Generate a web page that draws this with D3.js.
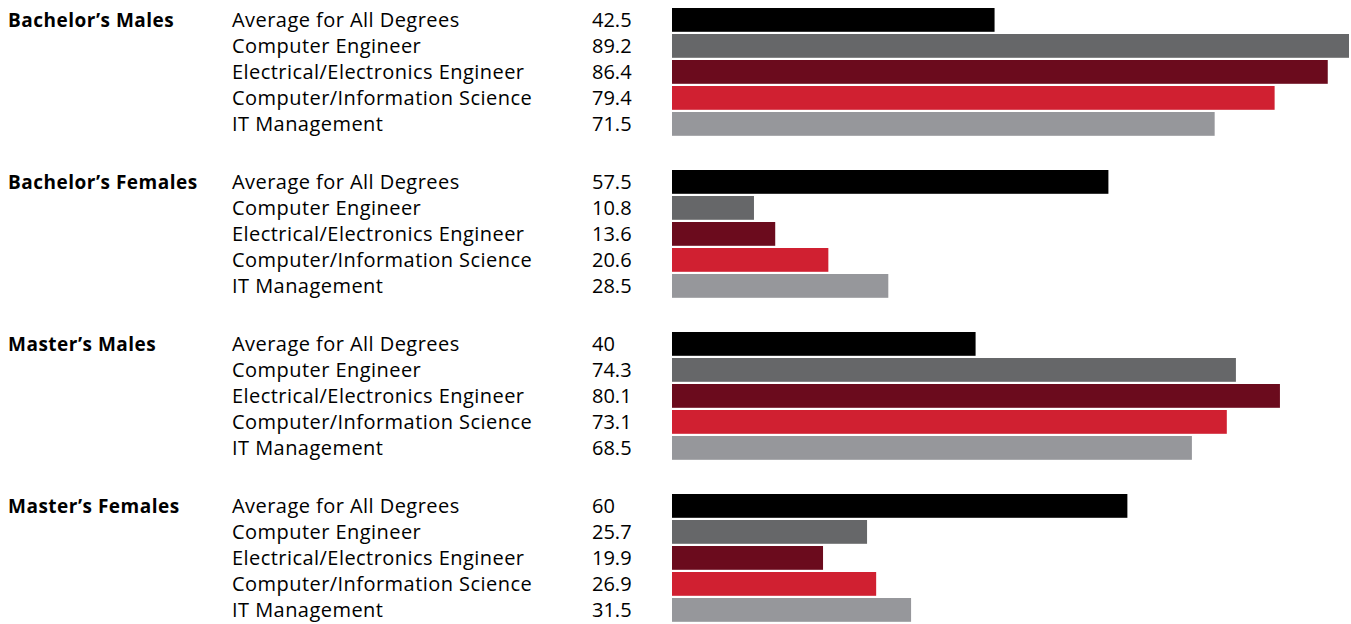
<!DOCTYPE html>
<html>
<head>
<meta charset="utf-8">
<script src="https://cdn.jsdelivr.net/npm/d3@7/dist/d3.min.js"></script>
<style>
  html, body { margin: 0; padding: 0; background: #fff; }
  svg { display: block; }
  text { font-family: "Open Sans", "Noto Sans", sans-serif; fill: #000; }
</style>
</head>
<body>
<svg id="chart" width="1351" height="624"></svg>
<script>
// Groups, degree categories and percentage values
const groups = ["Bachelor\u2019s Males", "Bachelor\u2019s Females", "Master\u2019s Males", "Master\u2019s Females"];
const categories = ["Average for All Degrees", "Computer Engineer", "Electrical/Electronics Engineer", "Computer/Information Science", "IT Management"];
const bachelorsMales   = [42.5, 89.2, 86.4, 79.4, 71.5];
const bachelorsFemales = [57.5, 10.8, 13.6, 20.6, 28.5];
const mastersMales     = [40, 74.3, 80.1, 73.1, 68.5];
const mastersFemales   = [60, 25.7, 19.9, 26.9, 31.5];
const valueLabels = [
  ["42.5", "89.2", "86.4", "79.4", "71.5"],
  ["57.5", "10.8", "13.6", "20.6", "28.5"],
  ["40", "74.3", "80.1", "73.1", "68.5"],
  ["60", "25.7", "19.9", "26.9", "31.5"]
];
const colors = ["#000000", "#666769", "#6b0b1d", "#d02031", "#96979b"];

const series = [bachelorsMales, bachelorsFemales, mastersMales, mastersFemales];
const rows = [];
groups.forEach((g, gi) => {
  categories.forEach((c, ci) => {
    rows.push({ group: g, cat: c, value: series[gi][ci], label: valueLabels[gi][ci] });
  });
});

const svg = d3.select("#chart");

const x = d3.scaleLinear().domain([0, 89.2]).range([672, 1349]);
const yGroup = d3.scaleBand().domain(groups).range([8, 8 + 4 * 162]);
const yCat = d3.scaleBand().domain(categories).range([0, 127.8]).paddingInner(0.085);
const color = d3.scaleOrdinal().domain(categories).range(colors);

const rowY = d => yGroup(d.group) + yCat(d.cat);
const midY = d => rowY(d) + yCat.bandwidth() / 2;

// Bars
svg.append("g").selectAll("rect")
  .data(rows)
  .join("rect")
  .attr("x", x(0))
  .attr("y", rowY)
  .attr("width", d => x(d.value) - x(0))
  .attr("height", yCat.bandwidth())
  .attr("fill", d => color(d.cat));

// Group titles
svg.append("g").selectAll("text")
  .data(groups)
  .join("text")
  .attr("x", 8)
  .attr("y", g => yGroup(g) + yCat.bandwidth() / 2)
  .attr("dy", "0.36em")
  .style("font-size", "19px")
  .style("font-weight", "700")
  .style("letter-spacing", "0.5px")
  .text(g => g);

// Category names
svg.append("g").selectAll("text")
  .data(rows)
  .join("text")
  .attr("x", 232)
  .attr("y", midY)
  .attr("dy", "0.36em")
  .style("font-size", "20px")
  .style("letter-spacing", "0.45px")
  .text(d => d.cat);

// Value labels
svg.append("g").selectAll("text")
  .data(rows)
  .join("text")
  .attr("x", 592)
  .attr("y", midY)
  .attr("dy", "0.36em")
  .style("font-size", "20px")
  .text(d => d.label);
</script>
</body>
</html>
